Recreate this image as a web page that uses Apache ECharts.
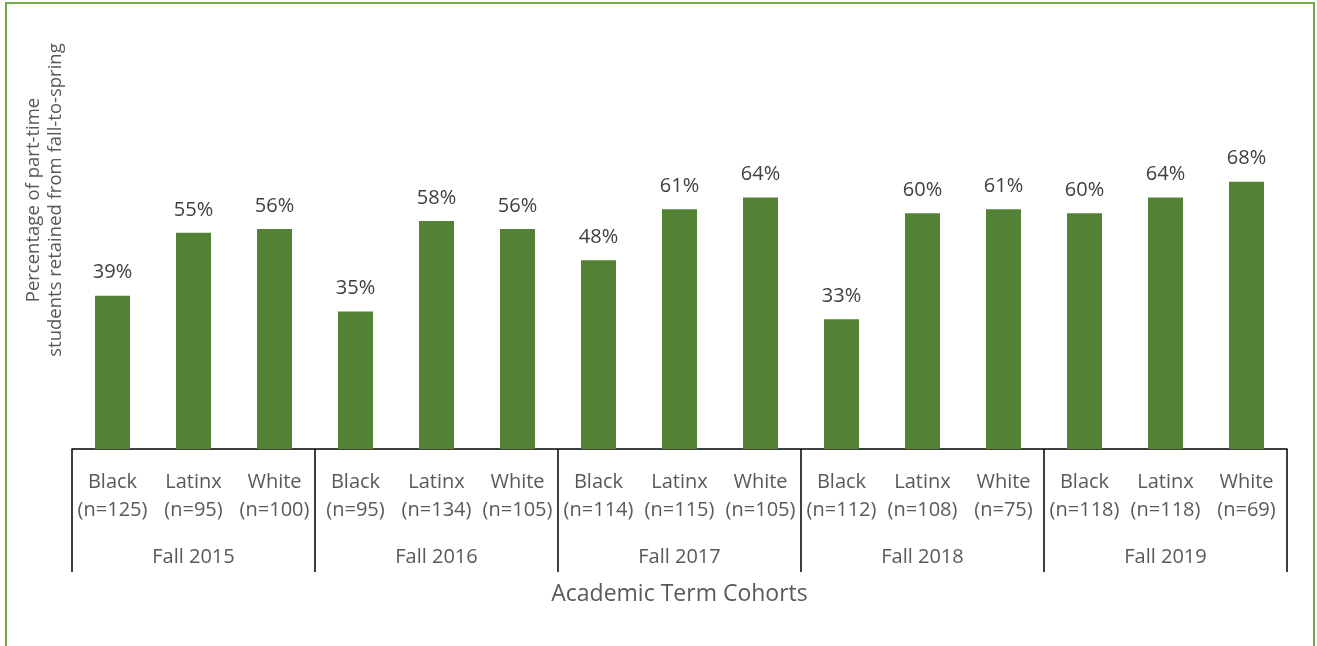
<!DOCTYPE html>
<html>
<head>
<meta charset="utf-8">
<script src="https://cdn.jsdelivr.net/npm/echarts@6/dist/echarts.min.js"></script>
<style>
  html, body { margin: 0; padding: 0; background: #fff; }
  #chart { width: 1317px; height: 646px; }
</style>
</head>
<body>
<div id="chart"></div>
<script>
// Cohort groups and the student groups within each
const cohorts = ['Fall 2015', 'Fall 2016', 'Fall 2017', 'Fall 2018', 'Fall 2019'];
const groups = ['Black', 'Latinx', 'White'];
// Sample sizes per cohort/group, in the same order
const sampleSizes = [
  125, 95, 100,
  95, 134, 105,
  114, 115, 105,
  112, 108, 75,
  118, 118, 69
];
// Fall-to-spring retention rate (%) per cohort/group
const retention = [
  39, 55, 56,
  35, 58, 56,
  48, 61, 64,
  33, 60, 61,
  60, 64, 68
];

const categories = [];
cohorts.forEach((c, ci) => {
  groups.forEach((g, gi) => {
    categories.push(g + '\n(n=' + sampleSizes[ci * 3 + gi] + ')');
  });
});

const FONT = 'Open Sans';
const chart = echarts.init(document.getElementById('chart'));
chart.setOption({
  animation: false,
  backgroundColor: '#ffffff',
  grid: { left: 72, right: 30, top: 56, bottom: 197 },
  xAxis: [
    {
      type: 'category',
      data: categories,
      position: 'bottom',
      axisLine: { show: false },
      axisTick: { show: false },
      axisLabel: {
        interval: 0,
        margin: 19,
        color: '#595959',
        fontFamily: FONT,
        fontSize: 20,
        lineHeight: 28
      }
    },
    {
      type: 'category',
      data: cohorts,
      position: 'bottom',
      axisLine: { show: true, lineStyle: { color: '#000000', width: 1.5 } },
      axisTick: { show: true, length: 123, interval: 0, lineStyle: { color: '#000000', width: 1.5 } },
      axisLabel: {
        interval: 0,
        margin: 98,
        color: '#595959',
        fontFamily: FONT,
        fontSize: 20
      },
      name: 'Academic Term Cohorts',
      nameLocation: 'middle',
      nameGap: 134,
      nameTextStyle: { color: '#595959', fontFamily: FONT, fontSize: 23, verticalAlign: 'top' }
    }
  ],
  yAxis: {
    type: 'value',
    min: 0,
    max: 100,
    show: false
  },
  graphic: [
    {
      type: 'rect',
      shape: { x: 6, y: 3, width: 1308, height: 700 },
      style: { fill: 'none', stroke: '#70AD47', lineWidth: 2 },
      silent: true
    },
    {
      type: 'text',
      x: 45,
      y: 200,
      rotation: Math.PI / 2,
      style: {
        text: 'Percentage of part-time\nstudents retained from fall-to-spring',
        fill: '#595959',
        font: '18.5px "Open Sans"',
        lineHeight: 22,
        align: 'center',
        verticalAlign: 'middle'
      }
    }
  ],
  series: [
    {
      type: 'bar',
      xAxisIndex: 0,
      data: retention,
      barWidth: 35,
      itemStyle: { color: '#548235' },
      label: {
        show: true,
        position: 'top',
        distance: 13,
        formatter: p => p.value + '%',
        color: '#404040',
        fontFamily: FONT,
        fontSize: 20
      }
    }
  ]
});
</script>
</body>
</html>
